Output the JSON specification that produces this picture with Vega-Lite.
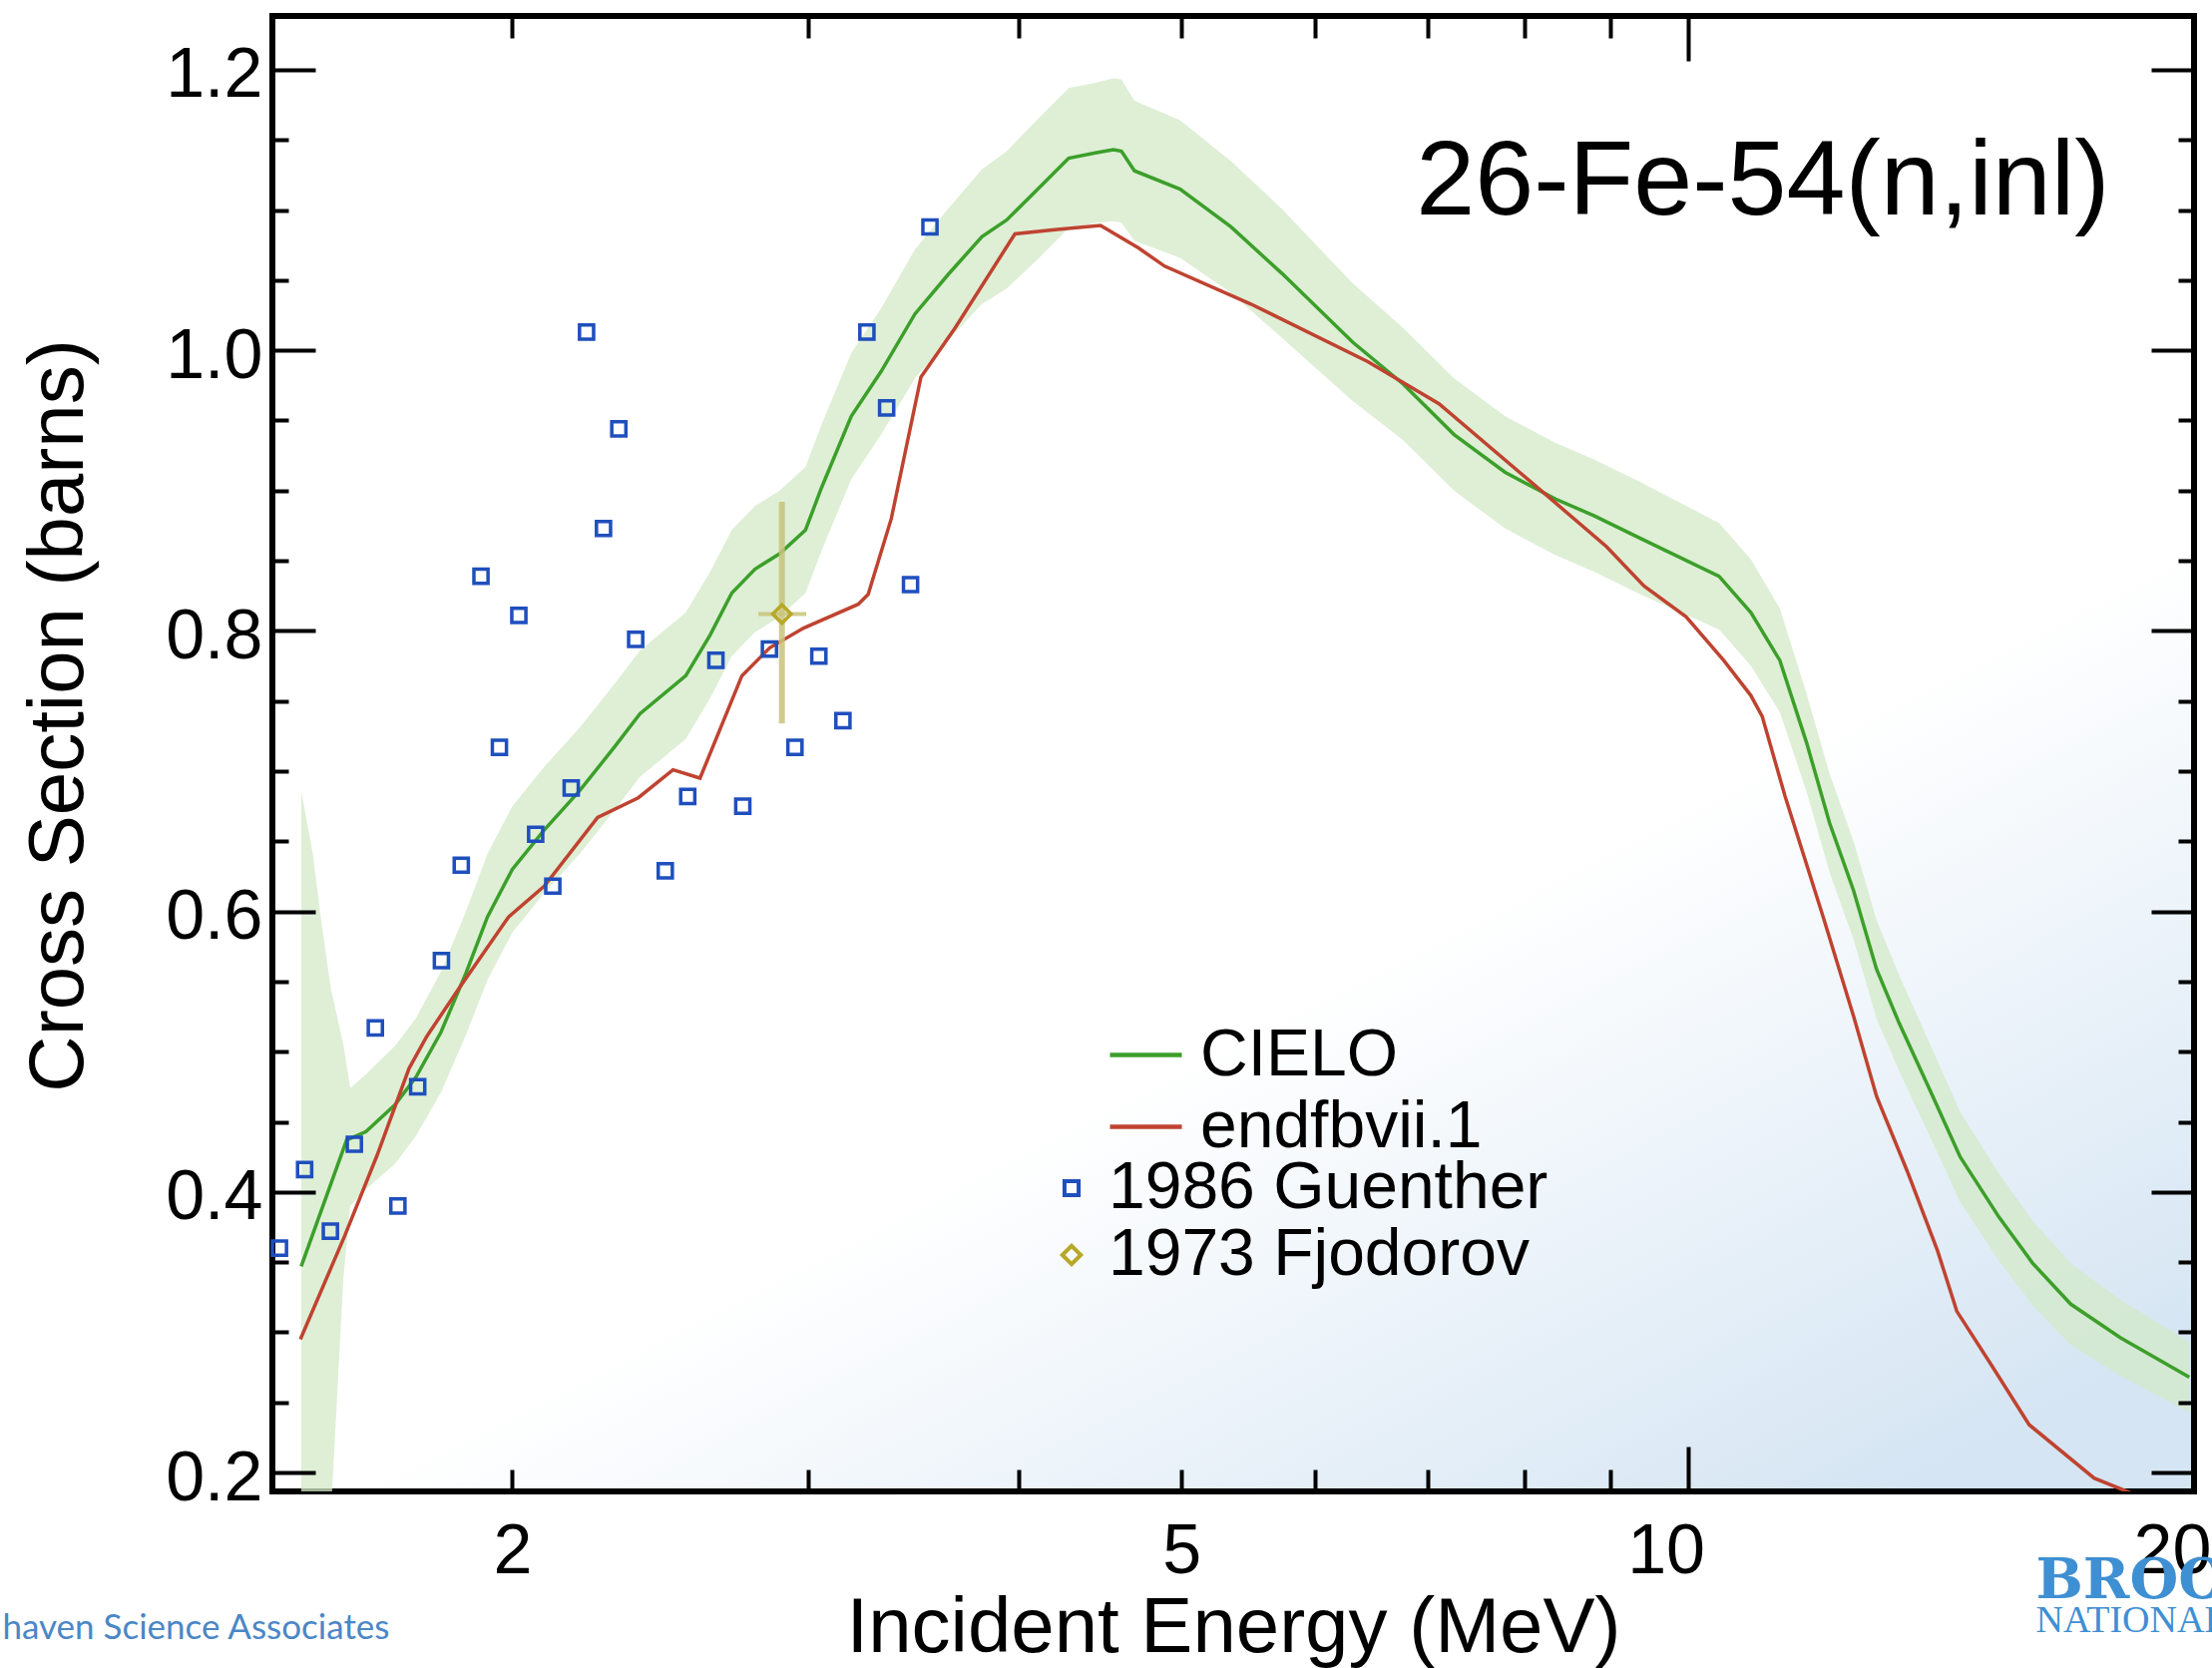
{
  "$schema": "https://vega.github.io/schema/vega-lite/v6.json",
  "width": 1926,
  "height": 1479,
  "autosize": {"type": "none"},
  "padding": {"left": 273, "top": 16, "right": 18, "bottom": 177},
  "background": "white",
  "datasets": {
    "band": [
      {"E": 1.498, "lo": 0.12, "hi": 0.686},
      {"E": 1.522, "lo": 0.12, "hi": 0.641},
      {"E": 1.541, "lo": 0.12, "hi": 0.590},
      {"E": 1.560, "lo": 0.17, "hi": 0.545},
      {"E": 1.587, "lo": 0.338, "hi": 0.505},
      {"E": 1.602, "lo": 0.39, "hi": 0.474},
      {"E": 1.637, "lo": 0.402, "hi": 0.484},
      {"E": 1.703, "lo": 0.420, "hi": 0.504},
      {"E": 1.753, "lo": 0.440, "hi": 0.524},
      {"E": 1.814, "lo": 0.471, "hi": 0.557},
      {"E": 1.877, "lo": 0.512, "hi": 0.600},
      {"E": 1.933, "lo": 0.551, "hi": 0.641},
      {"E": 2.000, "lo": 0.585, "hi": 0.675},
      {"E": 2.089, "lo": 0.613, "hi": 0.703},
      {"E": 2.193, "lo": 0.641, "hi": 0.731},
      {"E": 2.303, "lo": 0.673, "hi": 0.763},
      {"E": 2.382, "lo": 0.696, "hi": 0.786},
      {"E": 2.536, "lo": 0.723, "hi": 0.813},
      {"E": 2.622, "lo": 0.752, "hi": 0.842},
      {"E": 2.701, "lo": 0.782, "hi": 0.872},
      {"E": 2.788, "lo": 0.799, "hi": 0.889},
      {"E": 2.884, "lo": 0.810, "hi": 0.900},
      {"E": 2.988, "lo": 0.827, "hi": 0.917},
      {"E": 3.054, "lo": 0.857, "hi": 0.947},
      {"E": 3.181, "lo": 0.908, "hi": 0.998},
      {"E": 3.314, "lo": 0.940, "hi": 1.030},
      {"E": 3.471, "lo": 0.980, "hi": 1.072},
      {"E": 3.632, "lo": 1.007, "hi": 1.101},
      {"E": 3.804, "lo": 1.033, "hi": 1.129},
      {"E": 3.936, "lo": 1.044, "hi": 1.142},
      {"E": 4.107, "lo": 1.065, "hi": 1.165},
      {"E": 4.284, "lo": 1.087, "hi": 1.187},
      {"E": 4.451, "lo": 1.091, "hi": 1.191},
      {"E": 4.555, "lo": 1.092, "hi": 1.194},
      {"E": 4.605, "lo": 1.091, "hi": 1.193},
      {"E": 4.688, "lo": 1.078, "hi": 1.178},
      {"E": 4.990, "lo": 1.066, "hi": 1.164},
      {"E": 5.350, "lo": 1.041, "hi": 1.135},
      {"E": 5.735, "lo": 1.009, "hi": 1.101},
      {"E": 6.318, "lo": 0.964, "hi": 1.048},
      {"E": 6.773, "lo": 0.936, "hi": 1.016},
      {"E": 7.261, "lo": 0.900, "hi": 0.980},
      {"E": 7.788, "lo": 0.873, "hi": 0.953},
      {"E": 8.345, "lo": 0.854, "hi": 0.934},
      {"E": 8.800, "lo": 0.842, "hi": 0.922},
      {"E": 9.371, "lo": 0.826, "hi": 0.906},
      {"E": 10.437, "lo": 0.801, "hi": 0.877},
      {"E": 10.903, "lo": 0.775, "hi": 0.851},
      {"E": 11.343, "lo": 0.742, "hi": 0.816},
      {"E": 11.768, "lo": 0.685, "hi": 0.755},
      {"E": 12.143, "lo": 0.628, "hi": 0.698},
      {"E": 12.547, "lo": 0.580, "hi": 0.650},
      {"E": 12.947, "lo": 0.524, "hi": 0.594},
      {"E": 13.360, "lo": 0.486, "hi": 0.554},
      {"E": 13.938, "lo": 0.439, "hi": 0.505},
      {"E": 14.520, "lo": 0.393, "hi": 0.457},
      {"E": 15.313, "lo": 0.351, "hi": 0.413},
      {"E": 16.040, "lo": 0.319, "hi": 0.379},
      {"E": 16.894, "lo": 0.291, "hi": 0.349},
      {"E": 18.085, "lo": 0.269, "hi": 0.323},
      {"E": 19.871, "lo": 0.243, "hi": 0.293}
    ],
    "curves": [
      {"E": 1.498, "v": 0.347, "series": "CIELO"},
      {"E": 1.594, "v": 0.437, "series": "CIELO"},
      {"E": 1.637, "v": 0.443, "series": "CIELO"},
      {"E": 1.703, "v": 0.462, "series": "CIELO"},
      {"E": 1.753, "v": 0.482, "series": "CIELO"},
      {"E": 1.814, "v": 0.514, "series": "CIELO"},
      {"E": 1.877, "v": 0.556, "series": "CIELO"},
      {"E": 1.933, "v": 0.596, "series": "CIELO"},
      {"E": 2.000, "v": 0.630, "series": "CIELO"},
      {"E": 2.089, "v": 0.658, "series": "CIELO"},
      {"E": 2.193, "v": 0.686, "series": "CIELO"},
      {"E": 2.303, "v": 0.718, "series": "CIELO"},
      {"E": 2.382, "v": 0.741, "series": "CIELO"},
      {"E": 2.536, "v": 0.768, "series": "CIELO"},
      {"E": 2.622, "v": 0.797, "series": "CIELO"},
      {"E": 2.701, "v": 0.827, "series": "CIELO"},
      {"E": 2.788, "v": 0.844, "series": "CIELO"},
      {"E": 2.884, "v": 0.855, "series": "CIELO"},
      {"E": 2.988, "v": 0.872, "series": "CIELO"},
      {"E": 3.054, "v": 0.902, "series": "CIELO"},
      {"E": 3.181, "v": 0.953, "series": "CIELO"},
      {"E": 3.314, "v": 0.985, "series": "CIELO"},
      {"E": 3.471, "v": 1.026, "series": "CIELO"},
      {"E": 3.632, "v": 1.054, "series": "CIELO"},
      {"E": 3.804, "v": 1.081, "series": "CIELO"},
      {"E": 3.936, "v": 1.093, "series": "CIELO"},
      {"E": 4.107, "v": 1.115, "series": "CIELO"},
      {"E": 4.284, "v": 1.137, "series": "CIELO"},
      {"E": 4.451, "v": 1.141, "series": "CIELO"},
      {"E": 4.555, "v": 1.143, "series": "CIELO"},
      {"E": 4.605, "v": 1.142, "series": "CIELO"},
      {"E": 4.688, "v": 1.128, "series": "CIELO"},
      {"E": 4.990, "v": 1.115, "series": "CIELO"},
      {"E": 5.350, "v": 1.088, "series": "CIELO"},
      {"E": 5.735, "v": 1.055, "series": "CIELO"},
      {"E": 6.318, "v": 1.006, "series": "CIELO"},
      {"E": 6.773, "v": 0.976, "series": "CIELO"},
      {"E": 7.261, "v": 0.940, "series": "CIELO"},
      {"E": 7.788, "v": 0.913, "series": "CIELO"},
      {"E": 8.345, "v": 0.894, "series": "CIELO"},
      {"E": 8.800, "v": 0.882, "series": "CIELO"},
      {"E": 9.371, "v": 0.866, "series": "CIELO"},
      {"E": 10.437, "v": 0.839, "series": "CIELO"},
      {"E": 10.903, "v": 0.813, "series": "CIELO"},
      {"E": 11.343, "v": 0.779, "series": "CIELO"},
      {"E": 11.768, "v": 0.720, "series": "CIELO"},
      {"E": 12.143, "v": 0.663, "series": "CIELO"},
      {"E": 12.547, "v": 0.615, "series": "CIELO"},
      {"E": 12.947, "v": 0.559, "series": "CIELO"},
      {"E": 13.360, "v": 0.520, "series": "CIELO"},
      {"E": 13.938, "v": 0.472, "series": "CIELO"},
      {"E": 14.520, "v": 0.425, "series": "CIELO"},
      {"E": 15.313, "v": 0.382, "series": "CIELO"},
      {"E": 16.040, "v": 0.349, "series": "CIELO"},
      {"E": 16.894, "v": 0.320, "series": "CIELO"},
      {"E": 18.085, "v": 0.296, "series": "CIELO"},
      {"E": 19.871, "v": 0.268, "series": "CIELO"},
      {"E": 1.4963, "v": 0.295, "series": "endfbvii.1"},
      {"E": 1.5903, "v": 0.369, "series": "endfbvii.1"},
      {"E": 1.6618, "v": 0.426, "series": "endfbvii.1"},
      {"E": 1.7362, "v": 0.488, "series": "endfbvii.1"},
      {"E": 1.7792, "v": 0.511, "series": "endfbvii.1"},
      {"E": 1.8587, "v": 0.545, "series": "endfbvii.1"},
      {"E": 1.9897, "v": 0.596, "series": "endfbvii.1"},
      {"E": 2.0893, "v": 0.618, "series": "endfbvii.1"},
      {"E": 2.2477, "v": 0.667, "series": "endfbvii.1"},
      {"E": 2.3764, "v": 0.681, "series": "endfbvii.1"},
      {"E": 2.4923, "v": 0.701, "series": "endfbvii.1"},
      {"E": 2.5861, "v": 0.695, "series": "endfbvii.1"},
      {"E": 2.7387, "v": 0.768, "series": "endfbvii.1"},
      {"E": 2.8454, "v": 0.788, "series": "endfbvii.1"},
      {"E": 2.9803, "v": 0.802, "series": "endfbvii.1"},
      {"E": 3.2115, "v": 0.819, "series": "endfbvii.1"},
      {"E": 3.2556, "v": 0.826, "series": "endfbvii.1"},
      {"E": 3.3603, "v": 0.880, "series": "endfbvii.1"},
      {"E": 3.4996, "v": 0.981, "series": "endfbvii.1"},
      {"E": 3.6670, "v": 1.016, "series": "endfbvii.1"},
      {"E": 3.9800, "v": 1.083, "series": "endfbvii.1"},
      {"E": 4.2032, "v": 1.086, "series": "endfbvii.1"},
      {"E": 4.4753, "v": 1.089, "series": "endfbvii.1"},
      {"E": 4.7134, "v": 1.073, "series": "endfbvii.1"},
      {"E": 4.8858, "v": 1.060, "series": "endfbvii.1"},
      {"E": 5.4980, "v": 1.033, "series": "endfbvii.1"},
      {"E": 6.4522, "v": 0.992, "series": "endfbvii.1"},
      {"E": 7.1129, "v": 0.962, "series": "endfbvii.1"},
      {"E": 8.3477, "v": 0.891, "series": "endfbvii.1"},
      {"E": 8.9474, "v": 0.860, "series": "endfbvii.1"},
      {"E": 9.4187, "v": 0.832, "series": "endfbvii.1"},
      {"E": 9.9779, "v": 0.810, "series": "endfbvii.1"},
      {"E": 10.503, "v": 0.779, "series": "endfbvii.1"},
      {"E": 10.901, "v": 0.754, "series": "endfbvii.1"},
      {"E": 11.073, "v": 0.739, "series": "endfbvii.1"},
      {"E": 11.425, "v": 0.682, "series": "endfbvii.1"},
      {"E": 12.037, "v": 0.596, "series": "endfbvii.1"},
      {"E": 12.550, "v": 0.525, "series": "endfbvii.1"},
      {"E": 12.951, "v": 0.468, "series": "endfbvii.1"},
      {"E": 13.503, "v": 0.415, "series": "endfbvii.1"},
      {"E": 14.078, "v": 0.358, "series": "endfbvii.1"},
      {"E": 14.453, "v": 0.315, "series": "endfbvii.1"},
      {"E": 15.147, "v": 0.277, "series": "endfbvii.1"},
      {"E": 15.960, "v": 0.234, "series": "endfbvii.1"},
      {"E": 17.442, "v": 0.196, "series": "endfbvii.1"},
      {"E": 18.285, "v": 0.186, "series": "endfbvii.1"},
      {"E": 19.930, "v": 0.170, "series": "endfbvii.1"}
    ],
    "points": [
      {"E": 1.454, "v": 0.360, "series": "1986 Guenther"},
      {"E": 1.505, "v": 0.416, "series": "1986 Guenther"},
      {"E": 1.559, "v": 0.372, "series": "1986 Guenther"},
      {"E": 1.611, "v": 0.434, "series": "1986 Guenther"},
      {"E": 1.658, "v": 0.517, "series": "1986 Guenther"},
      {"E": 1.710, "v": 0.390, "series": "1986 Guenther"},
      {"E": 1.757, "v": 0.475, "series": "1986 Guenther"},
      {"E": 1.815, "v": 0.565, "series": "1986 Guenther"},
      {"E": 1.865, "v": 0.633, "series": "1986 Guenther"},
      {"E": 1.916, "v": 0.839, "series": "1986 Guenther"},
      {"E": 1.965, "v": 0.717, "series": "1986 Guenther"},
      {"E": 2.018, "v": 0.811, "series": "1986 Guenther"},
      {"E": 2.065, "v": 0.655, "series": "1986 Guenther"},
      {"E": 2.114, "v": 0.618, "series": "1986 Guenther"},
      {"E": 2.168, "v": 0.688, "series": "1986 Guenther"},
      {"E": 2.214, "v": 1.013, "series": "1986 Guenther"},
      {"E": 2.266, "v": 0.873, "series": "1986 Guenther"},
      {"E": 2.314, "v": 0.944, "series": "1986 Guenther"},
      {"E": 2.368, "v": 0.794, "series": "1986 Guenther"},
      {"E": 2.466, "v": 0.629, "series": "1986 Guenther"},
      {"E": 2.543, "v": 0.682, "series": "1986 Guenther"},
      {"E": 2.643, "v": 0.779, "series": "1986 Guenther"},
      {"E": 2.742, "v": 0.675, "series": "1986 Guenther"},
      {"E": 2.844, "v": 0.787, "series": "1986 Guenther"},
      {"E": 2.945, "v": 0.717, "series": "1986 Guenther"},
      {"E": 3.043, "v": 0.782, "series": "1986 Guenther"},
      {"E": 3.145, "v": 0.736, "series": "1986 Guenther"},
      {"E": 3.250, "v": 1.013, "series": "1986 Guenther"},
      {"E": 3.339, "v": 0.959, "series": "1986 Guenther"},
      {"E": 3.450, "v": 0.833, "series": "1986 Guenther"},
      {"E": 3.543, "v": 1.088, "series": "1986 Guenther"},
      {"E": 2.893, "v": 0.812, "series": "1973 Fjodorov"}
    ],
    "fjod": [
      {"E": 2.893, "v": 0.812, "lo": 0.734, "hi": 0.892, "elo": 2.801, "ehi": 2.991}
    ]
  },
  "resolve": {"axis": {"x": "independent", "y": "independent"}},
  "layer": [
    {
      "data": {"name": "band"},
      "mark": {"type": "area", "color": "#d3eac8", "opacity": 0.75, "clip": true},
      "encoding": {
        "x": {"field": "E", "type": "quantitative", "scale": {"type": "log", "domain": [1.44, 20], "nice": false},
          "axis": {"orient": "bottom", "values": [2, 5], "format": "d", "ticks": false, "tickSize": 0, "labelPadding": 26,
            "title": "Incident Energy (MeV)", "titleY": 160, "titleBaseline": "alphabetic"}},
        "y": {"field": "lo", "type": "quantitative", "scale": {"domain": [0.1865, 1.2384], "nice": false, "zero": false},
          "axis": {"orient": "left", "values": [0.2, 0.4, 0.6, 0.8, 1.0, 1.2], "format": ".1f", "ticks": false, "tickSize": 0,
            "labelPadding": 10, "labelOffset": 6,
            "title": "Cross Section (barns)", "titleX": -191, "titleY": 701, "titleBaseline": "alphabetic"}},
        "y2": {"field": "hi"}
      }
    },
    {
      "data": {"name": "curves"},
      "mark": {"type": "line", "strokeWidth": 3.5, "clip": true},
      "encoding": {
        "x": {"field": "E", "type": "quantitative", "scale": {"type": "log", "domain": [1.44, 20], "nice": false},
          "axis": {"orient": "bottom", "values": [10, 20], "format": "d", "ticks": false, "tickSize": 0, "labelPadding": 26, "labelOffset": -22, "title": null}},
        "y": {"field": "v", "type": "quantitative", "scale": {"domain": [0.1865, 1.2384], "nice": false, "zero": false},
          "axis": {"orient": "left", "values": [0.2, 0.4, 0.6, 0.8, 1.0, 1.2], "labels": false, "ticks": true, "tickSize": 43, "offset": -43, "title": null, "zindex": 1}},
        "stroke": {"field": "series", "type": "nominal",
          "scale": {"domain": ["CIELO", "endfbvii.1"], "range": ["#3c9f2a", "#bf4330"]},
          "legend": {"orient": "none", "legendX": 837, "legendY": 1003, "title": null, "symbolSize": 5184, "symbolStrokeWidth": 4.5,
            "labelOffset": 16, "labelFontSize": 66, "labelFont": "Liberation Sans", "labelColor": "black", "labelLimit": 0, "rowPadding": -3, "padding": 0}}
      }
    },
    {
      "data": {"name": "fjod"},
      "mark": {"type": "rule", "color": "#c9c37a", "strokeWidth": 6, "opacity": 0.85},
      "encoding": {
        "x": {"field": "E", "type": "quantitative", "scale": {"type": "log", "domain": [1.44, 20], "nice": false},
          "axis": {"orient": "bottom", "values": [2, 3, 4, 5, 6, 7, 8, 9], "labels": false, "ticks": true, "tickSize": 22, "offset": -22, "title": null, "zindex": 1}},
        "y": {"field": "lo", "type": "quantitative", "scale": {"domain": [0.1865, 1.2384], "nice": false, "zero": false},
          "axis": {"orient": "left", "values": [0.25, 0.3, 0.35, 0.45, 0.5, 0.55, 0.65, 0.7, 0.75, 0.85, 0.9, 0.95, 1.05, 1.1, 1.15], "labels": false, "ticks": true, "tickSize": 16, "offset": -16, "title": null, "zindex": 1}},
        "y2": {"field": "hi"}
      }
    },
    {
      "data": {"name": "fjod"},
      "mark": {"type": "rule", "color": "#c9c37a", "strokeWidth": 4, "opacity": 0.85},
      "encoding": {
        "x": {"field": "elo", "type": "quantitative", "scale": {"type": "log", "domain": [1.44, 20], "nice": false},
          "axis": {"orient": "bottom", "values": [10], "labels": false, "ticks": true, "tickSize": 45, "offset": -45, "title": null, "zindex": 1}},
        "x2": {"field": "ehi"},
        "y": {"field": "v", "type": "quantitative", "scale": {"domain": [0.1865, 1.2384], "nice": false, "zero": false},
          "axis": {"orient": "right", "values": [0.2, 0.4, 0.6, 0.8, 1.0, 1.2], "labels": false, "ticks": true, "tickSize": 43, "offset": -43, "title": null, "zindex": 1}}
      }
    },
    {
      "data": {"name": "points"},
      "mark": {"type": "point", "filled": false, "strokeWidth": 3.5, "opacity": 1},
      "encoding": {
        "x": {"field": "E", "type": "quantitative", "scale": {"type": "log", "domain": [1.44, 20], "nice": false},
          "axis": {"orient": "top", "values": [2, 3, 4, 5, 6, 7, 8, 9], "labels": false, "ticks": true, "tickSize": 22, "offset": -22, "title": null, "zindex": 1}},
        "y": {"field": "v", "type": "quantitative", "scale": {"domain": [0.1865, 1.2384], "nice": false, "zero": false},
          "axis": {"orient": "right", "values": [0.25, 0.3, 0.35, 0.45, 0.5, 0.55, 0.65, 0.7, 0.75, 0.85, 0.9, 0.95, 1.05, 1.1, 1.15], "labels": false, "ticks": true, "tickSize": 16, "offset": -16, "title": null, "zindex": 1}},
        "color": {"field": "series", "type": "nominal",
          "scale": {"domain": ["1986 Guenther", "1973 Fjodorov"], "range": ["#1f4fbe", "#b7a828"]},
          "legend": {"orient": "none", "legendX": 768, "legendY": 1142, "title": null, "symbolSize": 190, "symbolStrokeWidth": 4,
            "labelOffset": 4, "labelFontSize": 66, "labelFont": "Liberation Sans", "labelColor": "black", "labelLimit": 0, "rowPadding": 1, "padding": 0}},
        "shape": {"field": "series", "type": "nominal",
          "scale": {"domain": ["1986 Guenther", "1973 Fjodorov"], "range": ["square", "diamond"]},
          "legend": {"orient": "none", "legendX": 768, "legendY": 1142, "title": null, "symbolSize": 190, "symbolStrokeWidth": 4,
            "labelOffset": 4, "labelFontSize": 66, "labelFont": "Liberation Sans", "labelColor": "black", "labelLimit": 0, "rowPadding": 1, "padding": 0}},
        "size": {"field": "series", "type": "nominal",
          "scale": {"domain": ["1986 Guenther", "1973 Fjodorov"], "range": [200, 340]},
          "legend": null}
      }
    },
    {
      "data": {"values": [{}]},
      "mark": {"type": "text", "text": "26-Fe-54(n,inl)", "align": "right", "baseline": "alphabetic", "fontSize": 106, "font": "Liberation Sans", "color": "black"},
      "encoding": {
        "x": {"datum": 17.82, "type": "quantitative", "scale": {"type": "log", "domain": [1.44, 20], "nice": false},
          "axis": {"orient": "top", "values": [10], "labels": false, "ticks": true, "tickSize": 45, "offset": -45, "title": null, "zindex": 1}},
        "y": {"datum": 1.097, "type": "quantitative", "scale": {"domain": [0.1865, 1.2384], "nice": false, "zero": false}, "axis": null}
      }
    },
    {
      "data": {"values": [{}]},
      "mark": {"type": "text", "text": "haven Science Associates", "align": "left", "baseline": "alphabetic", "fontSize": 35, "font": "Lato", "color": "#4a87c6"},
      "encoding": {
        "x": {"datum": 0.9951, "type": "quantitative", "axis": null},
        "y": {"datum": 0.0812, "type": "quantitative", "axis": null}
      }
    },
    {
      "data": {"values": [{}]},
      "mark": {"type": "text", "text": "BROOKHAVEN", "align": "left", "baseline": "alphabetic", "fontSize": 56, "font": "DejaVu Serif", "fontWeight": "bold", "color": "#3f8fd3"},
      "encoding": {
        "x": {"datum": 16.107, "type": "quantitative", "axis": null},
        "y": {"datum": 0.1104, "type": "quantitative", "axis": null}
      }
    },
    {
      "data": {"values": [{}]},
      "mark": {"type": "text", "text": "NATIONAL LABORATORY", "align": "left", "baseline": "alphabetic", "fontSize": 38, "font": "Liberation Serif", "color": "#3f8fd3"},
      "encoding": {
        "x": {"datum": 16.107, "type": "quantitative", "axis": null},
        "y": {"datum": 0.0862, "type": "quantitative", "axis": null}
      }
    }
  ],
  "config": {
    "font": "Liberation Sans",
    "view": {
      "stroke": "black",
      "strokeWidth": 6,
      "fill": {"gradient": "linear", "x1": 0.35, "y1": 0.25, "x2": 0.85, "y2": 1,
        "stops": [{"offset": 0, "color": "#ffffff"}, {"offset": 0.5, "color": "#ffffff"}, {"offset": 1, "color": "#d5e5f3"}]}
    },
    "axis": {
      "domain": false,
      "grid": false,
      "labelFont": "Liberation Sans",
      "labelFontSize": 70,
      "labelColor": "black",
      "labelFlush": false,
      "labelOverlap": false,
      "labelBound": false,
      "titleFont": "Liberation Sans",
      "titleFontSize": 78,
      "titleFontWeight": "normal",
      "titleColor": "black",
      "tickColor": "black",
      "tickWidth": 4
    }
  }
}
